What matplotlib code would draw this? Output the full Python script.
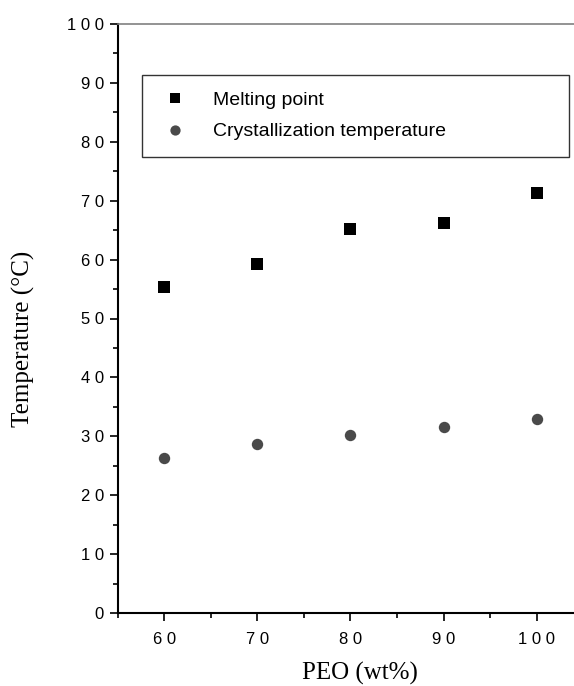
#!/usr/bin/env python

"""
melting point and crystallization temperature vs PEO content
"""

import numpy as np
import matplotlib
matplotlib.use("Agg")
import matplotlib.pyplot as plt
from matplotlib.ticker import MultipleLocator, FuncFormatter

peo_wt = [60, 70, 80, 90, 100]
melting_point = [55.3, 59.3, 65.2, 66.2, 71.3]
cryst_temp = [26.3, 28.7, 30.2, 31.6, 32.9]


def spaced(v, pos):
    ## tick labels in the original are letter-spaced
    return " ".join(str(int(round(v))))


fig = plt.figure(figsize=(5.74, 6.86), dpi=100)
ax = fig.add_axes([118 / 574, 1 - 613 / 686, 465 / 574, 589 / 686])

ax.plot(peo_wt, melting_point, "s", color="black", markersize=8,
        markeredgewidth=0, label="Melting point", clip_on=False)
ax.plot(peo_wt, cryst_temp, "o", color="#4a4a4a", markersize=8.2,
        markeredgewidth=0, label="Crystallization temperature", clip_on=False)

ax.set_xlim(55, 105)
ax.set_ylim(0, 100)
ax.xaxis.set_major_locator(MultipleLocator(10))
ax.xaxis.set_minor_locator(MultipleLocator(5))
ax.yaxis.set_major_locator(MultipleLocator(10))
ax.yaxis.set_minor_locator(MultipleLocator(5))
ax.xaxis.set_major_formatter(FuncFormatter(spaced))
ax.yaxis.set_major_formatter(FuncFormatter(spaced))

ax.spines["right"].set_visible(False)
ax.spines["left"].set_linewidth(1.5)
ax.spines["bottom"].set_linewidth(1.5)
ax.spines["top"].set_linewidth(1.2)
ax.spines["top"].set_color("#808080")

ax.tick_params(which="major", direction="out", length=6, width=1.2,
               labelsize=12, top=False, right=False)
ax.tick_params(which="minor", direction="out", length=3.8, width=1.2,
               top=False, right=False)
ax.tick_params(axis="y", which="major", pad=4)
ax.tick_params(axis="x", which="major", pad=8)
for lab in ax.get_xticklabels() + ax.get_yticklabels():
    lab.set_family(["Liberation Sans", "DejaVu Sans"])

ax.set_xlabel("PEO (wt%)", family="Liberation Serif", fontsize=18, va="center")
ax.xaxis.set_label_coords(0.52, -0.102)
ax.set_ylabel("Temperature (\u00b0C)", family="Liberation Serif", fontsize=18,
              va="center")
ax.yaxis.set_label_coords(-0.204, 0.465)

leg = ax.legend(loc="upper left", mode="expand", ncol=1,
                bbox_to_anchor=(142 / 574, 1 - 159 / 686, 427 / 574, 84 / 686),
                bbox_transform=fig.transFigure,
                prop={"family": "Liberation Sans", "size": 14},
                frameon=True, fancybox=False, borderpad=0.85,
                labelspacing=0.7, handletextpad=1.1, borderaxespad=0,
                handlelength=1.7, markerscale=0.9)
leg.get_frame().set_edgecolor("black")
leg.get_frame().set_linewidth(1.0)

fig.savefig("out.png", dpi=100)
